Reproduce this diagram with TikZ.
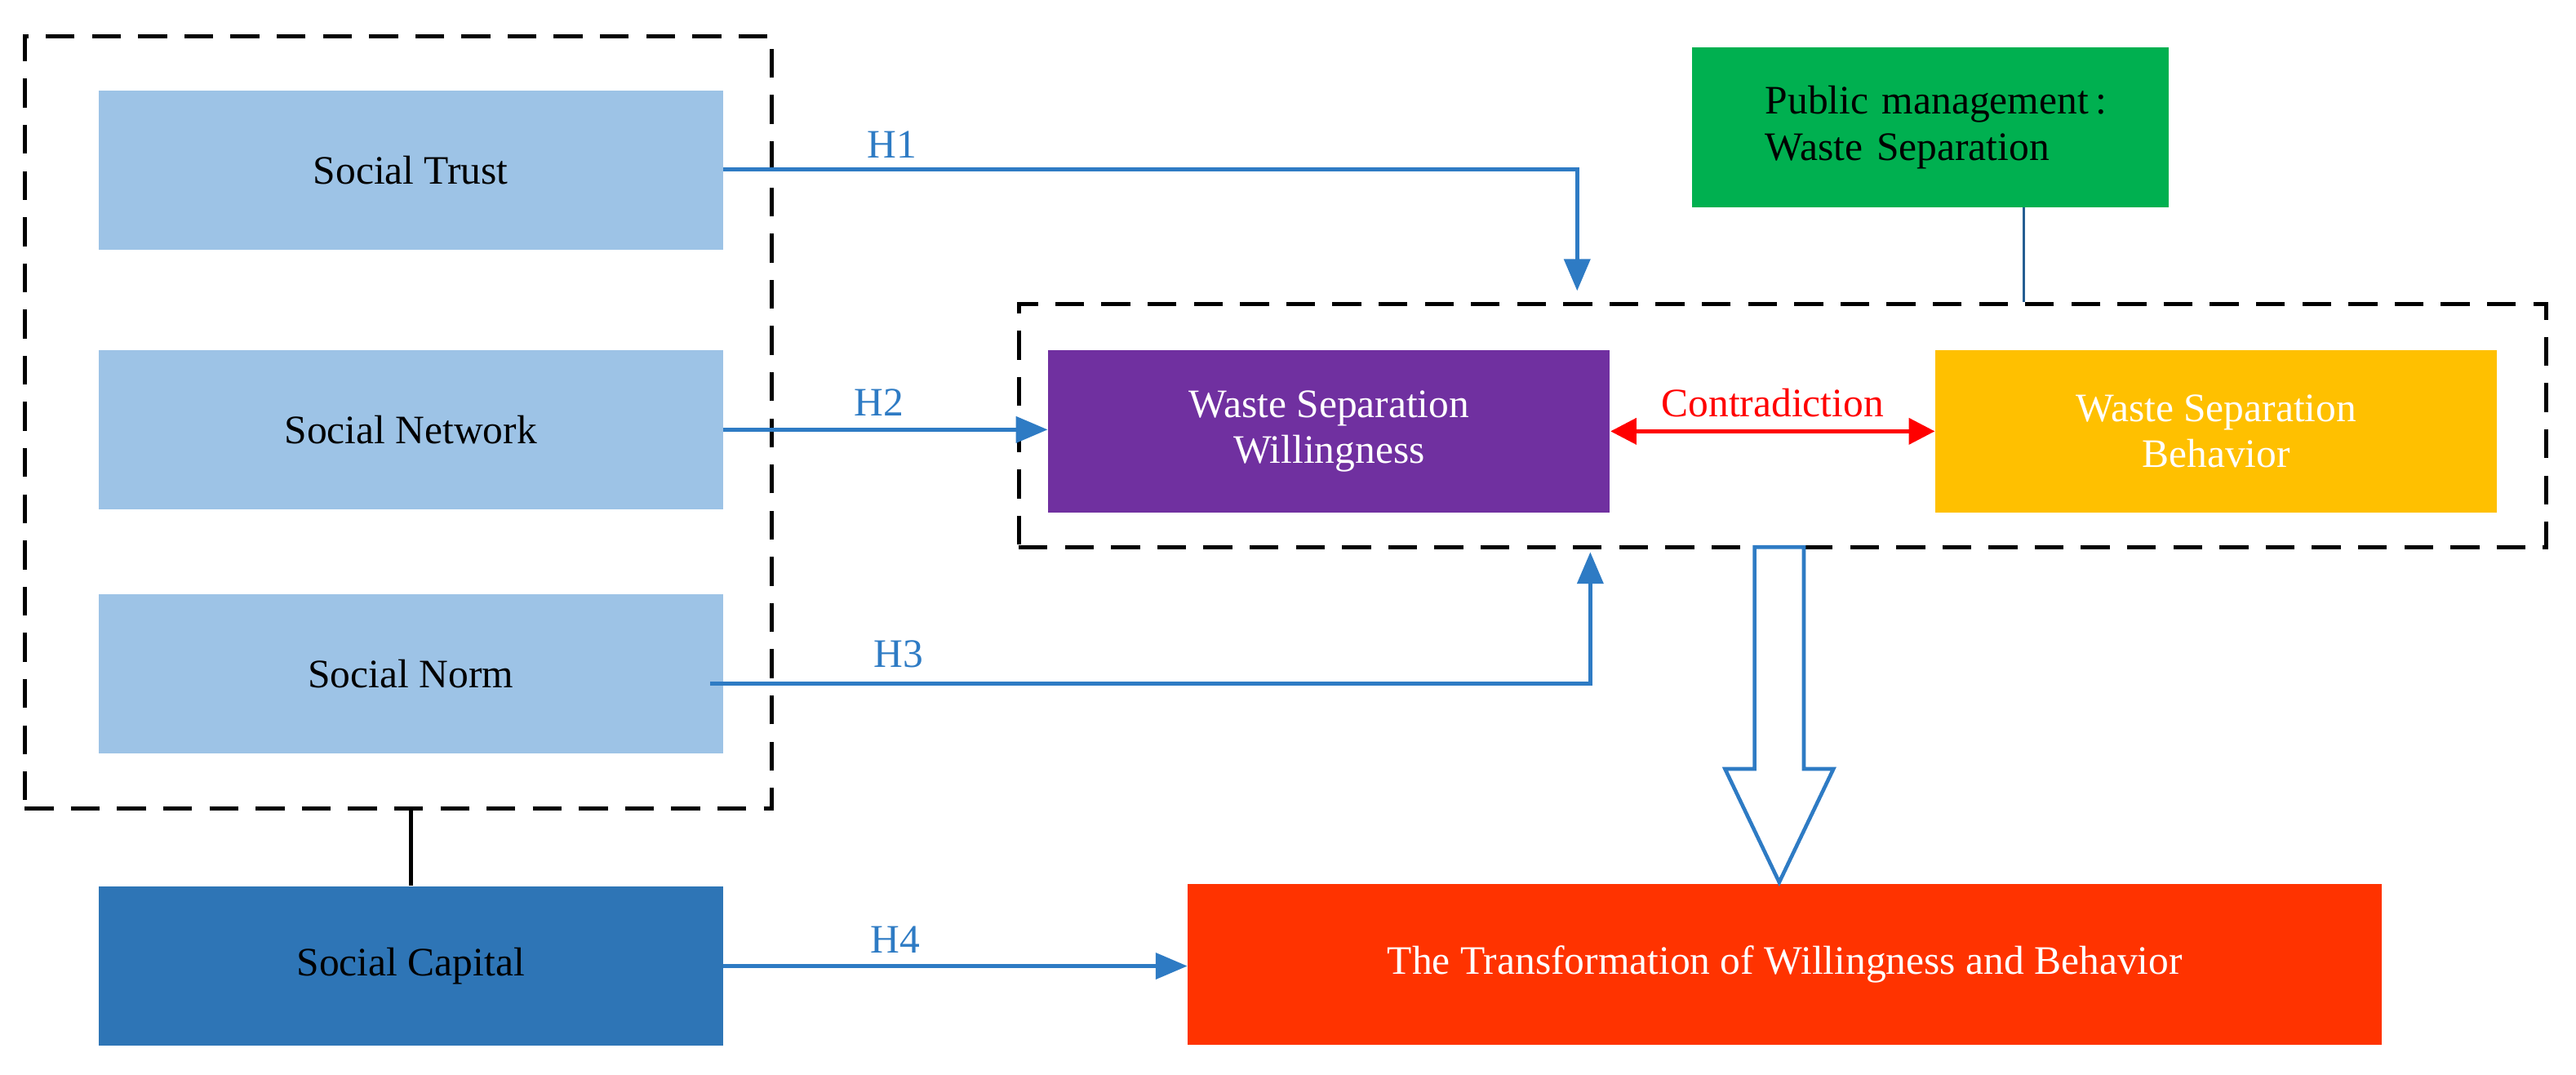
\documentclass[tikz,border=0pt]{standalone}
\usepackage{fontspec}
\setmainfont{Liberation Serif}
\usetikzlibrary{arrows.meta,positioning,calc}
\definecolor{lightblue}{HTML}{9DC3E6}
\definecolor{darkblue}{HTML}{2E75B6}
\definecolor{arrowblue}{HTML}{2E7BC4}
\definecolor{mgreen}{HTML}{00B050}
\definecolor{mpurple}{HTML}{7030A0}
\definecolor{myellow}{HTML}{FFC000}
\definecolor{mred}{HTML}{FF3300}
\tikzset{
  box/.style={draw=none, minimum width=7.6cm, minimum height=1.94cm, align=center, font=\fontsize{14}{16}\selectfont},
  dashbox/.style={draw=black, dashed, line width=1.4pt, dash pattern=on 10pt off 6pt},
  hyp/.style={draw=arrowblue, line width=1.3pt, -{Triangle[length=11pt,width=9pt]}},
  hlabel/.style={text=arrowblue, font=\fontsize{14}{16}\selectfont}
}
\begin{document}
\begin{tikzpicture}[x=0.02cm, y=-0.02cm]
    \useasboundingbox (0,0) rectangle (1568,654);

    % Left group
    \node[dashbox, minimum width=9.1cm, minimum height=9.4cm] (group) at (242.5,257) {};
    \node[box, fill=lightblue] (trust) at (250,103.5) {Social Trust};
    \node[box, fill=lightblue] (network) at (250,261.5) {Social Network};
    \node[box, fill=lightblue] (norm) at (250,410) {Social Norm};
    \node[box, fill=darkblue] (capital) at (250,588) {Social Capital};
    \draw[line width=1.4pt] (group.south -| capital) -- (capital.north);

    % Public management
    \node[box, fill=mgreen, minimum width=5.8cm] (public) at (1175,77.5) {};
    \node[align=left, text width=4.9cm, font=\fontsize{14}{16}\selectfont] (ptext) at (1197,77.5) {Public management\,:\\Waste Separation};

    % Middle group
    \node[dashbox, minimum width=18.6cm, minimum height=2.96cm] (middle) at (1085,259) {};
    \draw[draw=darkblue!80!black, line width=0.8pt] (public.south -| 1232,0) -- (middle.north -| 1232,0);
    \node[box, fill=mpurple, text=white, minimum width=6.84cm, minimum height=1.98cm] (will) at (809,262.5) {Waste Separation\\Willingness};
    \node[box, fill=myellow, text=white, minimum width=6.84cm, minimum height=1.98cm] (behav) at (1349,262.5) {Waste Separation\\Behavior};
    \draw[red, line width=1.3pt, {Triangle[length=9pt,width=9pt]}-{Triangle[length=9pt,width=9pt]}] (will) -- node[above=1pt, font=\fontsize{14}{16}\selectfont] {Contradiction} (behav);

    % Outcome
    \node[box, fill=mred, text=white, minimum width=14.54cm, minimum height=1.96cm] (trans) at (1086.5,587) {The Transformation of Willingness and Behavior};

    % Hypotheses
    \coordinate (h1end) at (960,177);
    \coordinate (h3end) at (968,336);
    \draw[hyp] (trust.east |- 0,103) -- (960,103) -- (h1end);
    \node[hlabel] (h1) at (543,88) {H1};
    \draw[hyp] (network.east) -- (will.west |- network.east);
    \node[hlabel] (h2) at (535,245) {H2};
    \draw[hyp] ([xshift=-0.16cm]norm.east |- 0,416) -- (968,416) -- (h3end);
    \node[hlabel] (h3) at (547,398) {H3};
    \draw[hyp] (capital.east) -- (trans.west |- capital.east);
    \node[hlabel] (h4) at (545,572) {H4};

    % Hollow arrow
    \draw[draw=arrowblue, line width=1.3pt, fill=white]
      (1068,333) -- (1098,333) -- (1098,468) -- (1116,468) -- (1083,537) -- (1050,468) -- (1068,468) -- cycle;
\end{tikzpicture}
\end{document}
